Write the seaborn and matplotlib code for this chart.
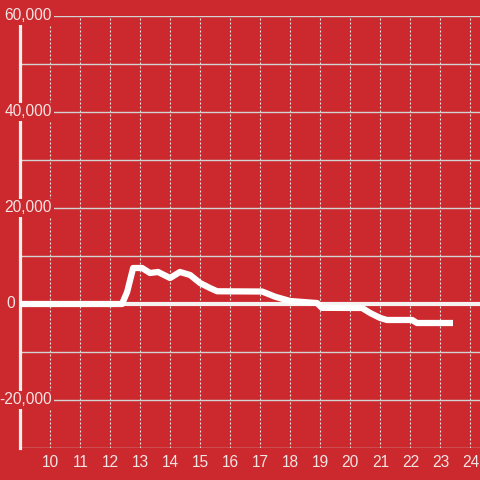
import matplotlib
matplotlib.use('Agg')
import matplotlib.pyplot as plt
import seaborn as sns
import pandas as pd
from matplotlib.transforms import offset_copy

# ---- data ----
hours = [9.0, 12.39, 12.56, 12.76, 13.06, 13.32, 13.59, 13.99, 14.32, 14.66,
         14.99, 15.32, 15.56, 17.06, 17.5, 17.99, 18.89, 19.05, 20.39, 20.66,
         20.99, 21.22, 22.06, 22.22, 23.42]
values = [0, 0, 2500, 7500, 7500, 6460, 6670, 5420, 6670, 6040,
          4375, 3330, 2650, 2600, 1500, 625, 200, -800, -830, -1875,
          -2900, -3330, -3330, -3960, -3960]
x_ticks = [10, 11, 12, 13, 14, 15, 16, 17, 18, 19, 20, 21, 22, 23, 24]
y_ticks = [-30000, -20000, -10000, 0, 10000, 20000, 30000, 40000, 50000, 60000]
y_label_values = [60000, 40000, 20000, 0, -20000]

BG = '#cc292e'
TXT = '#f3e4e4'

sns.set_style('white')
plt.rcParams['font.family'] = ['Liberation Sans', 'DejaVu Sans']

fig = plt.figure(figsize=(4.8, 4.8), dpi=100, facecolor=BG)
ax = fig.add_axes([20.3 / 480, 32 / 480, 459.7 / 480, 432 / 480])
ax.set_facecolor(BG)

df = pd.DataFrame({'hour': hours, 'value': values})
ax.axhline(0, color='#f7f2f2', lw=3, zorder=3)
sns.lineplot(data=df, x='hour', y='value', ax=ax, color='white', lw=4.5,
             zorder=4, solid_joinstyle='round', solid_capstyle='butt')

ax.set_xlim(9.0, 24.32)
ax.set_ylim(-30000, 60000)
ax.set_xticks(x_ticks)
ax.set_xticklabels([str(t) for t in x_ticks])
ax.set_yticks(y_ticks)
ax.set_yticklabels([])
ax.set_xlabel('')
ax.set_ylabel('')
ax.tick_params(axis='both', length=0)
ax.tick_params(axis='x', colors=TXT, labelsize=11.2, pad=5)

ax.grid(axis='y', color='#d2d2d2', lw=1.0, ls='-')
ax.grid(axis='x', color='#e2e2e2', lw=0.8, ls=(0, (1.8, 1.8)))
ax.set_axisbelow(True)

for s in ['top', 'right', 'bottom']:
    ax.spines[s].set_visible(False)
ax.spines['left'].set_color('#f4efef')
ax.spines['left'].set_linewidth(2.3)
ax.spines['left'].set_zorder(2.5)

base = ax.get_yaxis_transform()
for v in y_label_values:
    dx = -5.3 if v == 0 else 31.7
    tr = offset_copy(base, fig=fig, x=dx, y=0, units='dots')
    ax.text(0, v, f'{v:,}', transform=tr, ha='right', va='center',
            color=TXT, fontsize=11.2, zorder=6, clip_on=False,
            bbox=dict(boxstyle='square,pad=0.12', fc=BG, ec='none'))

fig.savefig('out.png', dpi=100, facecolor=BG)
